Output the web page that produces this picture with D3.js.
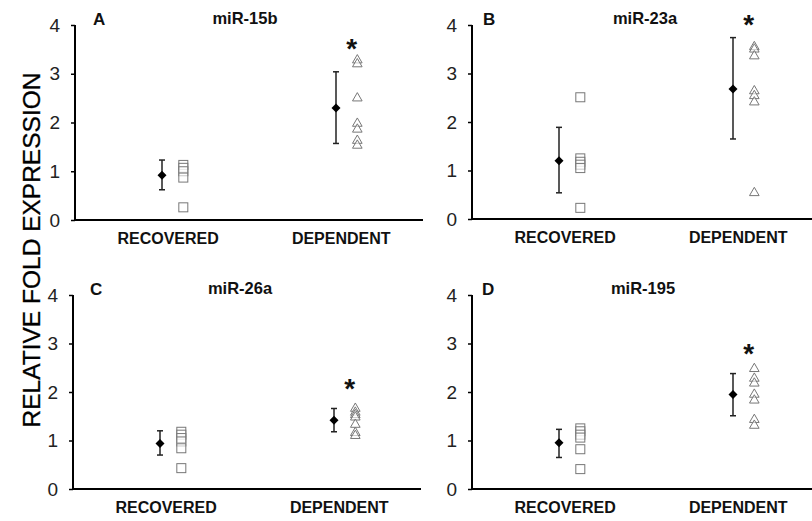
<!DOCTYPE html>
<html>
<head>
<meta charset="utf-8">
<script src="https://cdn.jsdelivr.net/npm/d3@7/dist/d3.min.js"></script>
<style>
  html, body { margin: 0; padding: 0; background: #fff; }
  svg { display: block; font-family: "Liberation Sans", Arial, sans-serif; }
</style>
</head>
<body>
<svg id="chart" width="812" height="521"></svg>
<script>
// ---- data ----
const panelLetters = ["A", "B", "C", "D"];
const panelTitles = ["miR-15b", "miR-23a", "miR-26a", "miR-195"];
const categories = ["RECOVERED", "DEPENDENT"];
const yTicks = [0, 1, 2, 3, 4];
const recoveredPoints = [
  [1.13, 1.07, 1.0, 0.87, 0.26],
  [2.51, 1.25, 1.18, 1.12, 1.05, 0.23],
  [1.18, 1.12, 1.05, 0.98, 0.84, 0.43],
  [1.25, 1.19, 1.12, 1.06, 0.82, 0.41]
];
const dependentPoints = [
  [3.3, 3.22, 2.52, 2.0, 1.88, 1.65, 1.55],
  [3.57, 3.52, 3.38, 2.66, 2.56, 2.43, 0.56],
  [1.68, 1.6, 1.55, 1.5, 1.35, 1.18, 1.12],
  [2.5, 2.3, 2.2, 1.97, 1.85, 1.45, 1.33]
];
const recoveredMean = [0.92, 1.2, 0.94, 0.955];
const recoveredLow = [0.62, 0.54, 0.70, 0.65];
const recoveredHigh = [1.23, 1.89, 1.2, 1.23];
const dependentMean = [2.30, 2.68, 1.42, 1.95];
const dependentLow = [1.57, 1.65, 1.18, 1.51];
const dependentHigh = [3.04, 3.74, 1.66, 2.38];
const significanceY = [3.65, 4.14, 2.2, 2.93];

// ---- layout ----
const axisX = [75, 472, 73, 472];
const yBottom = [220, 219, 489, 489];
const yTop = [25, 25, 295, 295];
const letterX = [93, 483, 90, 482];
const titleX = [245, 645, 240, 643];
const axisLen = 348;

const svg = d3.select("#chart");

svg.append("text")
  .attr("transform", "translate(40,250) rotate(-90)")
  .attr("text-anchor", "middle")
  .attr("font-size", 24.5)
  .attr("fill", "#000")
  .attr("stroke", "#000").attr("stroke-width", 0.3)
  .text("RELATIVE FOLD EXPRESSION");

const triangle = d3.symbol().type(d3.symbolTriangle).size(40);

panelLetters.forEach((letter, i) => {
  const g = svg.append("g");
  const y = d3.scaleLinear().domain([0, 4]).range([yBottom[i], yTop[i]]);
  const x = d3.scaleLinear().domain([0, 4]).range([axisX[i], axisX[i] + axisLen]);

  // y axis
  const yAxis = d3.axisLeft(y).tickValues(yTicks).tickSize(4).tickPadding(11).tickFormat(d3.format("d"));
  const ya = g.append("g").attr("transform", `translate(${axisX[i]},0)`).call(yAxis);
  ya.select(".domain").attr("stroke", "#000").attr("stroke-width", 2).attr("d", `M0,${yTop[i]}V${yBottom[i]}`);
  ya.selectAll(".tick line").attr("stroke", "#000").attr("stroke-width", 1.5);
  ya.selectAll(".tick text").attr("font-size", 19).attr("fill", "#222")
    .attr("font-family", "'Liberation Sans', Arial, sans-serif");

  // x axis line
  g.append("line")
    .attr("x1", axisX[i] - 1).attr("x2", x(4))
    .attr("y1", y(0)).attr("y2", y(0))
    .attr("stroke", "#000").attr("stroke-width", 2);

  // category labels
  [1.07, 3.06].forEach((p, k) => {
    g.append("text").attr("x", x(p)).attr("y", y(0) + 24)
      .attr("text-anchor", "middle").attr("font-size", 16).attr("font-weight", "bold")
      .attr("fill", "#111").text(categories[k]);
  });

  // letter and title
  g.append("text").attr("x", letterX[i]).attr("y", yTop[i])
    .attr("font-size", 17).attr("font-weight", "bold").attr("fill", "#111").text(letter);
  g.append("text").attr("x", titleX[i]).attr("y", yTop[i] - 1)
    .attr("text-anchor", "middle").attr("font-size", 16.5).attr("font-weight", "bold")
    .attr("fill", "#111").text(panelTitles[i]);

  // error bars + means
  const groups = [
    { pos: 1, mean: recoveredMean[i], lo: recoveredLow[i], hi: recoveredHigh[i] },
    { pos: 3, mean: dependentMean[i], lo: dependentLow[i], hi: dependentHigh[i] }
  ];
  groups.forEach(d => {
    const cx = x(d.pos);
    g.append("line").attr("x1", cx).attr("x2", cx).attr("y1", y(d.lo)).attr("y2", y(d.hi))
      .attr("stroke", "#222").attr("stroke-width", 1.5);
    [d.lo, d.hi].forEach(v => {
      g.append("line").attr("x1", cx - 3).attr("x2", cx + 3).attr("y1", y(v)).attr("y2", y(v))
        .attr("stroke", "#222").attr("stroke-width", 1.5);
    });
    g.append("path").attr("transform", `translate(${cx},${y(d.mean)})`)
      .attr("d", "M0,-4.5L4.5,0L0,4.5L-4.5,0Z").attr("fill", "#000");
  });

  // recovered squares
  g.selectAll(".sq").data(recoveredPoints[i]).enter().append("rect")
    .attr("x", x(1.245) - 4.5).attr("y", v => y(v) - 4.5)
    .attr("width", 9).attr("height", 9)
    .attr("fill", "#fff").attr("fill-opacity", 0.6).attr("stroke", "#777").attr("stroke-width", 1);

  // dependent triangles
  g.selectAll(".tri").data(dependentPoints[i]).enter().append("path")
    .attr("transform", v => `translate(${x(3.245)},${y(v) + 1})`)
    .attr("d", triangle)
    .attr("fill", "#fff").attr("fill-opacity", 0.6).attr("stroke", "#777").attr("stroke-width", 1);

  // significance asterisk
  g.append("text").attr("x", x(3.18)).attr("y", y(significanceY[i]) + 16)
    .attr("text-anchor", "middle").attr("font-size", 28).attr("font-weight", "bold")
    .attr("fill", "#111").text("*");
});
</script>
</body>
</html>
